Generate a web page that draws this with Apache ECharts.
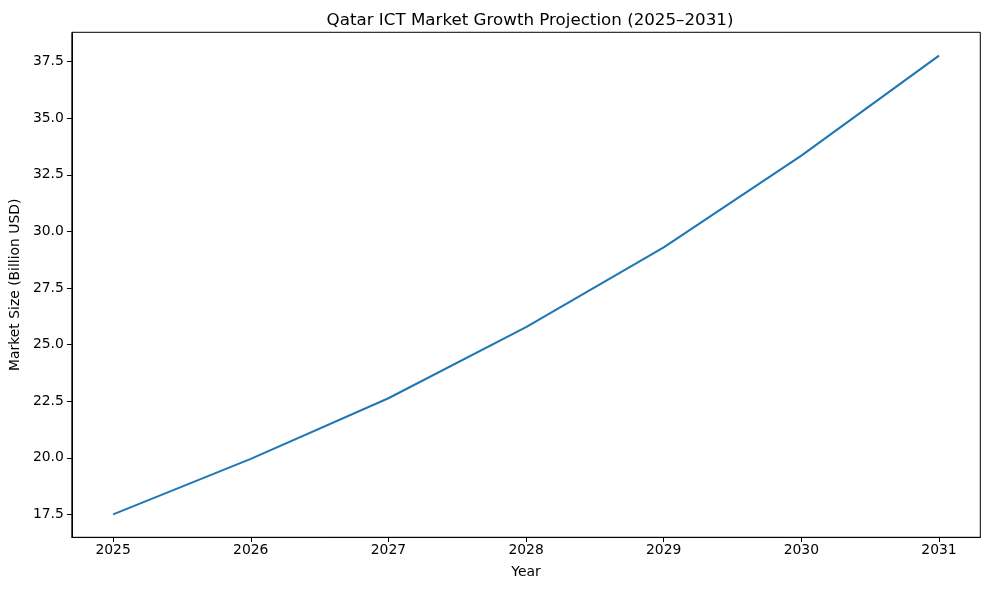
<!DOCTYPE html>
<html>
<head>
<meta charset="utf-8">
<script src="https://cdn.jsdelivr.net/npm/echarts@6/dist/echarts.min.js"></script>
<style>
html,body{margin:0;padding:0;background:#fff;}
#chart{width:989px;height:590px;}
</style>
</head>
<body>
<div id="chart"></div>
<script>
const years = [2025, 2026, 2027, 2028, 2029, 2030, 2031];
const marketSize = [17.5, 19.95, 22.63, 25.77, 29.30, 33.35, 37.77];
const yTicks = [17.5, 20.0, 22.5, 25.0, 27.5, 30.0, 32.5, 35.0, 37.5];

const font = 'DejaVu Sans';
const chart = echarts.init(document.getElementById('chart'), null, {renderer: 'canvas'});
chart.setOption({
  animation: false,
  backgroundColor: '#fff',
  title: {
    text: 'Qatar ICT Market Growth Projection (2025–2031)',
    left: 525, top: 7, textAlign: 'center',
    textStyle: {fontFamily: font, fontSize: 16.7, fontWeight: 'normal', color: '#000'}
  },
  grid: {
    left: 70.5, right: 8.7, top: 32.3, bottom: 52.7,
    show: true, borderColor: '#000', borderWidth: 1, backgroundColor: 'transparent'
  },
  xAxis: {
    type: 'value', min: 2024.7, max: 2031.3,
    name: 'Year', nameLocation: 'middle', nameGap: 28,
    nameTextStyle: {fontFamily: font, fontSize: 13.9, color: '#000'},
    axisLine: {show: true, lineStyle: {color: '#000', width: 1}},
    axisTick: {show: true, length: 4.9, lineStyle: {color: '#000'}, customValues: years},
    axisLabel: {fontFamily: font, fontSize: 13.9, color: '#000', margin: 6, customValues: years,
      formatter: v => String(Math.round(v))},
    splitLine: {show: false}
  },
  yAxis: {
    type: 'value', min: 16.486, max: 38.80,
    name: 'Market Size (Billion USD)', nameLocation: 'middle', nameGap: 46, nameRotate: 90,
    nameTextStyle: {fontFamily: font, fontSize: 13.9, color: '#000'},
    axisLine: {show: true, lineStyle: {color: '#000', width: 1}},
    axisTick: {show: true, length: 4.9, lineStyle: {color: '#000'}, customValues: yTicks},
    axisLabel: {fontFamily: font, fontSize: 13.9, color: '#000', margin: 8, customValues: yTicks,
      formatter: v => v.toFixed(1)},
    splitLine: {show: false}
  },
  series: [{
    type: 'line',
    data: years.map((y, i) => [y, marketSize[i]]),
    showSymbol: false, symbol: 'none',
    lineStyle: {color: '#1f77b4', width: 2.08},
    itemStyle: {color: '#1f77b4'}
  }]
});
</script>
</body>
</html>
